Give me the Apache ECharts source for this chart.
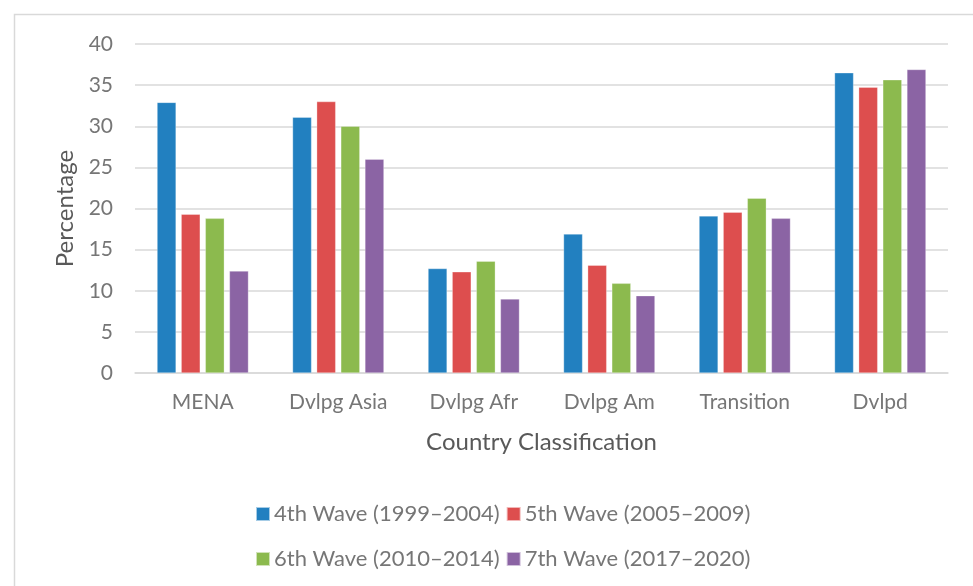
<!DOCTYPE html>
<html>
<head>
<meta charset="utf-8">
<script src="https://cdn.jsdelivr.net/npm/echarts@6/dist/echarts.min.js"></script>
<style>
html,body{margin:0;padding:0;background:#fff;}
#chart{width:973px;height:586px;}
</style>
</head>
<body>
<div id="chart"></div>
<script>
const categories = ['MENA', 'Dvlpg Asia', 'Dvlpg Afr', 'Dvlpg Am', 'Transition', 'Dvlpd'];
const seriesNames = ['4th Wave (1999\u20132004)', '5th Wave (2005\u20132009)', '6th Wave (2010\u20132014)', '7th Wave (2017\u20132020)'];
const wave4 = [32.9, 31.1, 12.7, 16.9, 19.1, 36.5];
const wave5 = [19.3, 33.0, 12.3, 13.1, 19.55, 34.75];
const wave6 = [18.8, 30.0, 13.6, 10.9, 21.25, 35.65];
const wave7 = [12.4, 26.0, 9.0, 9.4, 18.8, 36.9];
const colors = ['#2280C0', '#DD4E4E', '#8CBA4E', '#8B64A4'];
const yTicks = { min: 0, max: 40, interval: 5 };

const FONT = 'Lato, "Open Sans", sans-serif';
const chart = echarts.init(document.getElementById('chart'));
const allData = [wave4, wave5, wave6, wave7];

const series = allData.map((d, i) => ({
  name: seriesNames[i],
  type: 'bar',
  data: d,
  barWidth: 19,
  barGap: '27%',
  itemStyle: { color: colors[i], borderColor: 'rgba(255,255,255,0.6)', borderWidth: 0.5 },
  emphasis: { disabled: true }
}));

const legendCommon = {
  left: 255,
  padding: 0,
  itemWidth: 14,
  itemHeight: 14,
  itemGap: 6,
  icon: 'rect',
  textStyle: { fontFamily: FONT, fontSize: 22, color: '#767676', padding: [0, 0, 0, -1] },
  selectedMode: false
};

chart.setOption({
  backgroundColor: '#fff',
  color: colors,
  animation: false,
  graphic: [{
    type: 'rect',
    shape: { x: 14.5, y: 14.5, width: 1000, height: 1000 },
    style: { fill: 'none', stroke: '#d9d9d9', lineWidth: 1.5 },
    silent: true
  }],
  grid: { left: 135, right: 25, top: 44, bottom: 213, containLabel: false },
  legend: [
    Object.assign({}, legendCommon, { top: 503, data: [seriesNames[0], seriesNames[1]] }),
    Object.assign({}, legendCommon, { top: 548, data: [seriesNames[2], seriesNames[3]] })
  ],
  xAxis: {
    type: 'category',
    data: categories,
    name: 'Country Classification',
    nameLocation: 'middle',
    nameGap: 57,
    nameTextStyle: { fontFamily: FONT, fontSize: 24, color: '#595959' },
    axisLine: { lineStyle: { color: '#d9d9d9', width: 1.5 } },
    axisTick: { show: false },
    axisLabel: { fontFamily: FONT, fontSize: 21, color: '#767676', margin: 19 }
  },
  yAxis: {
    type: 'value',
    min: yTicks.min,
    max: yTicks.max,
    interval: yTicks.interval,
    name: 'Percentage',
    nameLocation: 'middle',
    nameGap: 58,
    nameTextStyle: { fontFamily: FONT, fontSize: 24, color: '#595959' },
    axisLine: { show: false },
    axisTick: { show: false },
    axisLabel: { fontFamily: FONT, fontSize: 21, color: '#767676', margin: 22 },
    splitLine: { lineStyle: { color: '#d9d9d9', width: 1.5 } }
  },
  series: series
});
</script>
</body>
</html>
